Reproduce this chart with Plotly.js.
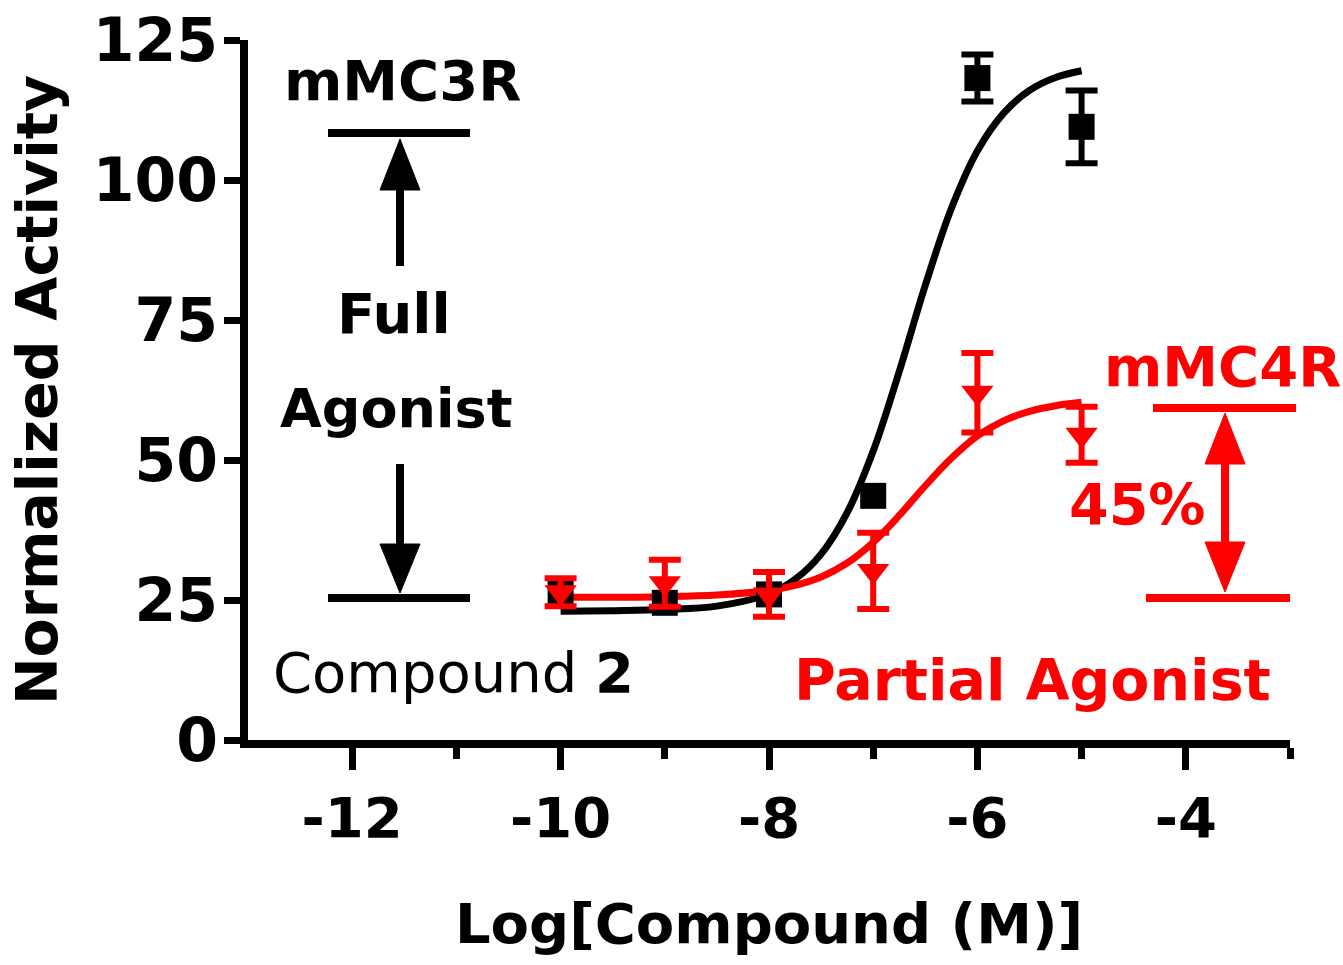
<!DOCTYPE html>
<html><head><meta charset="utf-8">
<script src="https://cdn.plot.ly/plotly-3.0.1.min.js"></script>
<style>html,body{margin:0;padding:0;background:#fff;}#chart{width:1343px;height:965px;}</style>
</head><body><div id="chart"></div>
<script>
// ---- data ----
var doseLog = [-10, -9, -8, -7, -6, -5];
var mc3rMean = [26.5, 24.5, 26, 43.6, 118.2, 109.5];
var mc3rErr  = [0, 0, 0, 0, 4.2, 6.5];   // 0 = no visible error bar
var mc4rMean = [26.4, 28, 26, 30.2, 62, 54.5];
var mc4rErr  = [2.5, 4.2, 4, 6.8, 7.1, 5];

var fitX = [-10, -9.5, -9, -8.5, -8, -7.75, -7.5, -7.25, -7, -6.75, -6.5, -6.25, -6, -5.75, -5.5, -5.25, -5];
var mc3rFit = [23.0, 23.1, 23.3, 23.9, 26.1, 28.7, 33.2, 40.6, 51.6, 65.8, 81.2, 94.9, 105.2, 111.9, 116.0, 118.3, 119.5];
var mc4rFit = [25.5, 25.5, 25.6, 25.9, 26.7, 27.6, 29.1, 31.6, 35.3, 40.1, 45.4, 50.3, 54.3, 57.0, 58.7, 59.7, 60.3];

var xTickVals = [-12, -10, -8, -6, -4];
var xTickText = ['-12', '-10', '-8', '-6', '-4'];
var xMinorVals = [-11, -9, -7, -5, -3];
var yTickVals = [0, 25, 50, 75, 100, 125];

// ---- layout geometry ----
var W = 1343, H = 965, mL = 248, mR = 53, mT = 40, mB = 225;
var pw = W - mL - mR, ph = H - mT - mB;
function px(x) { return (x - mL) / pw; }
function py(y) { return (H - mB - y) / ph; }

var FONT = 'DejaVu Sans, Arial, sans-serif';
var RED = '#ff0000';

// points of mMC3R that carry a visible error bar
var ebIdx = mc3rErr.map(function (e, i) { return e > 0 ? i : -1; }).filter(function (i) { return i >= 0; });

var traces = [
  {x: fitX, y: mc3rFit, mode: 'lines', line: {color: '#000', width: 7, shape: 'spline'}, hoverinfo: 'skip'},
  {x: fitX, y: mc4rFit, mode: 'lines', line: {color: RED, width: 7, shape: 'spline'}, hoverinfo: 'skip'},
  {x: ebIdx.map(function (i) { return doseLog[i]; }), y: ebIdx.map(function (i) { return mc3rMean[i]; }),
   mode: 'markers', marker: {size: 1, color: 'rgba(0,0,0,0)'},
   error_y: {type: 'data', array: ebIdx.map(function (i) { return mc3rErr[i]; }), color: '#000', thickness: 6, width: 16}},
  {x: doseLog, y: mc3rMean, mode: 'markers', marker: {symbol: 'square', size: 26, color: '#000'}},
  {x: doseLog, y: mc4rMean, mode: 'markers', marker: {symbol: 'triangle-down', size: 28, color: RED},
   error_y: {type: 'data', array: mc4rErr, color: RED, thickness: 6, width: 16}}
];

function hline(x0, x1, y, color) {
  return {type: 'line', xref: 'paper', yref: 'paper', x0: px(x0), x1: px(x1), y0: py(y), y1: py(y), line: {color: color, width: 8}};
}
function vline(x, y0, y1, color) {
  return {type: 'line', xref: 'paper', yref: 'paper', x0: px(x), x1: px(x), y0: py(y0), y1: py(y1), line: {color: color, width: 8}};
}
function head(x, tipY, baseY, hw, color) {
  var p = 'M ' + px(x) + ' ' + py(tipY) + ' L ' + px(x - hw) + ' ' + py(baseY) + ' L ' + px(x + hw) + ' ' + py(baseY) + ' Z';
  return {type: 'path', xref: 'paper', yref: 'paper', path: p, fillcolor: color, line: {color: color, width: 1}};
}

var shapes = [
  hline(328, 470, 133, '#000'),
  hline(328, 470, 598, '#000'),
  vline(400, 188, 266, '#000'),
  head(400, 139, 190, 20, '#000'),
  vline(400, 464, 546, '#000'),
  head(400, 593, 544, 20, '#000'),
  hline(1153, 1296, 408, RED),
  hline(1146, 1290, 598, RED),
  vline(1225, 462, 544, RED),
  head(1225, 413, 464, 20, RED),
  head(1225, 592, 542, 20, RED)
];

function ann(text, x, y, color, size, weight) {
  return {text: text, xref: 'paper', yref: 'paper', x: px(x), y: py(y), xanchor: 'center', yanchor: 'middle',
          showarrow: false, font: {family: FONT, size: size, color: color, weight: weight}};
}
var annotations = [
  ann('mMC3R', 402, 80, '#000', 56, 'bold'),
  ann('Full', 394, 313, '#000', 56, 'bold'),
  ann('Agonist', 396, 408, '#000', 54, 'bold'),
  ann('Compound <b>2</b>', 453, 672, '#000', 56, 'normal'),
  ann('mMC4R', 1222, 366, RED, 56, 'bold'),
  ann('45%', 1137, 505, RED, 57, 'bold'),
  ann('Partial Agonist', 1032, 680, RED, 57, 'bold')
];

var layout = {
  width: W, height: H,
  margin: {l: mL, r: mR, t: mT, b: mB, pad: 0},
  paper_bgcolor: '#fff', plot_bgcolor: '#fff',
  showlegend: false,
  font: {family: FONT, color: '#000'},
  xaxis: {
    range: [-13, -3], showgrid: false, zeroline: false,
    showline: true, linecolor: '#000', linewidth: 8,
    ticks: 'outside', ticklen: 22, tickwidth: 7, tickcolor: '#000',
    tickvals: xTickVals, ticktext: xTickText,
    tickfont: {family: FONT, size: 56, weight: 'bold', color: '#000'},
    minor: {tickvals: xMinorVals, ticks: 'outside', ticklen: 11, tickwidth: 7, tickcolor: '#000', showgrid: false},
    title: {text: 'Log[Compound (M)]', font: {family: FONT, size: 56, weight: 'bold', color: '#000'}, standoff: 58}
  },
  yaxis: {
    range: [0, 125], showgrid: false, zeroline: false,
    showline: true, linecolor: '#000', linewidth: 8,
    ticks: 'outside', ticklen: 16, tickwidth: 7, tickcolor: '#000',
    tickvals: yTickVals, ticklabelstandoff: -6,
    tickfont: {family: FONT, size: 60, weight: 'bold', color: '#000'},
    title: {text: 'Normalized Activity', font: {family: FONT, size: 57, weight: 'bold', color: '#000'}, standoff: 20}
  },
  shapes: shapes,
  annotations: annotations
};

Plotly.newPlot('chart', traces, layout, {displayModeBar: false, staticPlot: true});
</script>
</body></html>
